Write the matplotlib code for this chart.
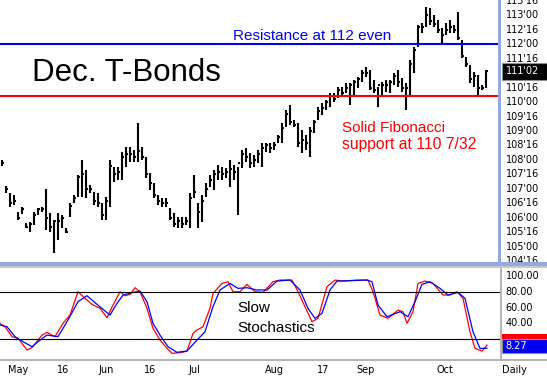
import matplotlib
matplotlib.use("Agg")
import matplotlib.pyplot as plt
from matplotlib.patches import Rectangle

# daily bars, Dec. T-Bond futures (price in points, 32nds as decimals)
highs = [108.00, 107.10, 106.86, 106.79, 106.21, 106.38, 105.83, 105.86, 106.21, 106.34,
         106.38, 107.00, 106.17, 105.93, 106.17, 106.10, 105.66, 106.52, 106.79, 107.48,
         108.00, 107.66, 107.14, 106.90, 106.86, 106.52, 106.72, 108.00, 107.76, 107.76,
         108.28, 108.45, 108.45, 108.34, 109.28, 108.45, 108.10, 107.55, 107.21, 106.79,
         106.69, 106.69, 106.34, 106.17, 106.03, 106.03, 106.03, 106.86, 107.48, 106.52,
         106.79, 107.21, 107.48, 107.66, 107.83, 107.76, 107.72, 108.00, 107.83, 107.76,
         108.34, 108.41, 108.24, 108.17, 108.34, 108.59, 108.59, 108.59, 108.62, 108.86,
         109.28, 109.72, 109.90, 109.38, 109.28, 109.03, 108.86, 109.14, 109.38, 109.83,
         109.97, 110.07, 110.31, 110.31, 110.52, 110.52, 110.66, 110.66, 110.76, 110.86,
         111.10, 111.21, 111.10, 110.76, 110.52, 110.69, 110.76, 110.76, 111.00, 111.10,
         110.83, 110.66, 111.45, 111.90, 112.66, 112.72, 113.28, 113.24, 113.00, 112.83,
         112.55, 112.72, 112.83, 112.66, 113.10, 112.14, 111.55, 111.28, 111.03, 110.93,
         110.59, 111.10]
lows = [107.79, 106.86, 106.38, 106.45, 105.93, 106.14, 105.66, 105.52, 105.76, 106.10,
        106.21, 105.59, 105.52, 104.79, 105.24, 105.66, 105.48, 106.03, 106.52, 106.72,
        106.72, 106.69, 106.86, 106.45, 106.38, 105.93, 105.93, 106.38, 107.24, 107.31,
        107.31, 107.76, 107.93, 107.93, 107.93, 108.00, 107.38, 106.97, 106.69, 106.45,
        106.38, 106.38, 105.93, 105.69, 105.66, 105.66, 105.76, 105.66, 106.69, 105.66,
        105.86, 106.72, 107.07, 106.97, 107.31, 107.31, 107.38, 107.07, 107.31, 106.10,
        107.72, 107.93, 107.72, 107.76, 107.90, 107.76, 108.28, 108.24, 108.34, 108.59,
        108.59, 109.14, 109.21, 109.14, 108.45, 108.24, 108.34, 108.10, 108.93, 109.38,
        109.55, 109.72, 109.83, 110.00, 110.14, 110.17, 110.31, 109.90, 110.24, 110.48,
        110.69, 110.86, 110.41, 110.31, 109.83, 110.17, 110.34, 110.31, 110.59, 110.52,
        110.34, 109.72, 110.24, 111.00, 111.90, 112.38, 112.59, 112.66, 112.59, 112.38,
        112.03, 112.31, 112.38, 112.38, 112.14, 111.52, 111.21, 110.66, 110.52, 110.17,
        110.41, 110.48]
closes = [107.9, 107.0, 106.5, 106.6, 106.0, 106.3, 105.7, 105.8, 106.1, 106.3,
          106.3, 106.0, 105.7, 105.9, 105.9, 106.0, 105.5, 106.4, 106.7, 107.4,
          107.5, 107.0, 107.0, 106.6, 106.5, 106.1, 106.6, 107.8, 107.5, 107.6,
          108.1, 108.2, 108.2, 108.1, 108.3, 108.1, 107.5, 107.2, 106.8, 106.6,
          106.5, 106.5, 106.0, 105.8, 105.9, 105.8, 105.9, 106.7, 106.9, 106.2,
          106.6, 107.0, 107.3, 107.5, 107.6, 107.5, 107.6, 107.7, 107.6, 107.9,
          108.2, 108.1, 107.9, 108.0, 108.2, 108.4, 108.5, 108.4, 108.5, 108.8,
          109.1, 109.6, 109.3, 109.2, 108.6, 108.7, 108.6, 109.0, 109.3, 109.7,
          109.8, 110.0, 110.2, 110.1, 110.4, 110.3, 110.5, 110.6, 110.7, 110.8,
          111.0, 111.0, 110.5, 110.4, 110.6, 110.6, 110.6, 110.7, 110.9, 110.7,
          110.5, 110.5, 111.3, 111.8, 112.6, 112.6, 113.0, 112.8, 112.7, 112.5,
          112.3, 112.5, 112.6, 112.5, 112.2, 111.6, 111.3, 110.8, 110.9, 110.5,
          110.5, 111.0625]

resistance = 112.0
support = 110 + 7 / 32
last_price = 111.0625

# slow stochastics (bar number, value)
k_pos = [-0.5, 0.75, 2.5, 4, 6.25, 7.5, 10, 11.25, 13.25, 15.25, 17, 19, 20.75, 22.5, 24.5,
         26.25, 27.75, 29.5, 30.75, 32, 33.25, 34.5, 36.25, 37.75, 39.5, 41.25, 42.5, 45,
         46.25, 47.75, 48.75, 50.25, 52, 52.75, 55, 56.5, 57.75, 59.5, 61.25, 63.25, 65.25,
         67.75, 69.5, 72.5, 74, 75.75, 77.5, 79, 81.25, 83.25, 85.25, 88.75, 91.5, 92.75,
         94.5, 96.5, 99, 100.25, 101.25, 102.75, 104, 105.75, 107.75, 110.25, 112, 113.75,
         115.25, 117, 118.25, 120, 121.25]
k_val = [40.0, 35.7, 23.0, 21.0, 6.0, 9.0, 25.0, 28.5, 23.0, 40.0, 50.6, 80.4, 72.0, 64.3, 59.2,
         47.2, 63.4, 80.4, 75.3, 77.0, 85.5, 80.4, 59.2, 33.6, 18.7, 8.1, 1.7, 3.0,
         4.7, 27.2, 31.5, 35.7, 59.2, 78.3, 91.0, 93.2, 80.4, 80.4, 89.8, 80.4, 79.5,
         93.2, 95.3, 95.3, 80.4, 61.3, 42.1, 46.4, 86.8, 95.3, 94.0, 95.3, 95.3, 80.4,
         50.6, 46.4, 57.0, 54.9, 40.0, 54.9, 91.0, 94.0, 91.0, 76.2, 76.2, 80.4,
         72.0, 29.3, 8.1, 4.7, 12.3]
d_pos = [-0.5, 1.25, 3.25, 5.25, 7.5, 9, 11.25, 14, 16.5, 19, 21.25, 23.75, 27, 28.75, 30.25,
         32.75, 34.5, 36.25, 37.75, 39.5, 41.5, 43.75, 46.25, 48.75, 50.75, 52.75, 54.5,
         57, 59, 61.25, 63.75, 66.25, 68.75, 72, 74.5, 76.5, 78.25, 80, 82, 83.75, 87,
         91.25, 92.5, 94, 96.25, 99.5, 101.5, 103.25, 105, 107, 109.5, 111.5, 114, 115.75,
         117.75, 119.5, 121.25]
d_val = [37.9, 35.7, 23.0, 16.6, 10.2, 16.6, 25.1, 23.0, 44.3, 67.7, 75.3, 64.3, 50.6, 65.5, 76.2,
         79.5, 81.3, 67.7, 40.0, 25.0, 10.2, 3.0, 4.7, 18.7, 29.3, 61.3, 82.6,
         91.0, 84.7, 85.5, 82.6, 82.6, 94.0, 95.3, 82.6, 59.2, 46.4, 52.8, 82.6, 94.0, 94.5,
         95.3, 93.2, 63.4, 48.5, 54.9, 48.5, 67.7, 89.8, 93.2, 84.7, 76.2, 79.5, 72.0,
         29.3, 8.1, 8.27]
last_k = 12.3
last_d = 8.27

price_ticks = [113.5, 113.0, 112.5, 112.0, 111.5, 111.0, 110.5, 110.0, 109.5, 109.0,
               108.5, 108.0, 107.5, 107.0, 106.5, 106.0, 105.5, 105.0, 104.5]
stoch_ticks = [100, 80, 60, 40]
stoch_levels = [80, 20]

date_labels = ['May', '16', 'Jun', '16', 'Jul', 'Aug', '17', 'Sep', 'Oct']
date_pos = [4, 15.25, 26, 37, 48, 68, 80.25, 91, 110.75]


def to32(v):
    whole = int(v)
    return "%d'%02d" % (whole, round((v - whole) * 32))


W, H = 547, 379
fig = plt.figure(figsize=(W / 100, H / 100), dpi=100)


def box(x0, y0, x1, y1):
    return [x0 / W, 1 - y1 / H, (x1 - x0) / W, (y1 - y0) / H]


tick_font = dict(family='DejaVu Sans', size=7)
note_font = 'Liberation Sans'

# ---------------- price panel
ax = fig.add_axes(box(0, 0, 500, 262))
n = len(highs)
xs = list(range(n))
ax.vlines(xs, lows, highs, color='black', lw=1.5)
ax.hlines(closes, xs, [x + 0.6 for x in xs], color='black', lw=1.5)
ax.axhline(resistance, color='#0000ff', lw=1.5)
ax.axhline(support, color='#ff0000', lw=1.5)
ax.set_xlim(-0.5, 124.5)
ax.set_ylim(104.48, 113.52)
ax.axis('off')

ax.text(0.064, 0.721, 'Dec. T-Bonds', transform=ax.transAxes, fontsize=22.5,
        family=note_font, va='center', ha='left', color='black')
ax.text(0.466, 0.848, 'Resistance at 112 even', transform=ax.transAxes, fontsize=11,
        family=note_font, va='baseline', color='#0000ff')
ax.text(0.684, 0.496, 'Solid Fibonacci', transform=ax.transAxes, fontsize=11,
        family=note_font, va='baseline', color='#ff0000')
ax.text(0.684, 0.432, 'support at 110 7/32', transform=ax.transAxes, fontsize=11.3,
        family=note_font, va='baseline', color='#ff0000')

# price scale
axr = fig.add_axes(box(501, 0, 547, 262))
axr.set_ylim(ax.get_ylim())
axr.set_xlim(0, 1)
axr.axis('off')
for v in price_ticks:
    if abs(v - last_price) < 0.3:
        continue
    axr.text(0.1, v, to32(v), ha='left', va='center', clip_on=True, **tick_font)
axr.add_patch(Rectangle((0.02, last_price - 0.30), 0.98, 0.60, facecolor='black',
                        edgecolor='#909090', lw=0.8, zorder=3))
axr.text(0.1, last_price, to32(last_price), color='white', ha='left', va='center',
         zorder=4, **tick_font)

# ---------------- stochastics panel
st = fig.add_axes(box(0, 268, 500, 359))
st.plot(k_pos, k_val, color='#ff0000', lw=0.9)
st.plot(d_pos, d_val, color='#0000ff', lw=0.9)
for lv in stoch_levels:
    st.axhline(lv, color='black', lw=0.8)
st.set_xlim(-0.5, 124.5)
st.set_ylim(-5.5, 110.7)
for s in st.spines.values():
    s.set_visible(False)
st.set_yticks([])
st.set_xticks(date_pos)
st.set_xticklabels(date_labels, **tick_font)
st.tick_params(axis='x', length=0, pad=4.5)
st.text(0.474, 0.516, 'Slow', transform=st.transAxes, fontsize=11, family=note_font,
        va='baseline')
st.text(0.474, 0.297, 'Stochastics', transform=st.transAxes, fontsize=11, family=note_font,
        va='baseline')

sr = fig.add_axes(box(502, 268, 547, 359))
sr.set_ylim(st.get_ylim())
sr.set_xlim(0, 1)
sr.axis('off')
for v in stoch_ticks:
    sr.text(0.08, v, '%.2f' % v, ha='left', va='center', **tick_font)
sr.add_patch(Rectangle((0, last_k - 4), 1, 18.4, facecolor='#ff0000', lw=0, zorder=3))
sr.add_patch(Rectangle((0, 2.2), 1, 17.8, facecolor='#0000f0', edgecolor='#909090',
                       lw=0.8, zorder=4))
sr.text(0.08, 11.1, '%.2f' % last_d, color='white', ha='left', va='center', zorder=5,
        **tick_font)

fig.text(514 / W, 1 - 370 / H, 'Daily', ha='center', va='center', **tick_font)

# panel separators
fig.add_artist(Rectangle((0, 1 - 266 / H), 1, 4 / H, transform=fig.transFigure,
                         facecolor='#95a9e0', lw=0))
fig.add_artist(Rectangle((0, 1 - 268 / H), 1, 2 / H, transform=fig.transFigure,
                         facecolor='#c8c8c8', lw=0))
fig.add_artist(Rectangle((0, 1 - 361 / H), 1, 2 / H, transform=fig.transFigure,
                         facecolor='#b4b4b4', lw=0))
fig.add_artist(Rectangle((498 / W, 1 - 262 / H), 3 / W, 262 / H, transform=fig.transFigure,
                         facecolor='#95a9e0', lw=0))
fig.add_artist(Rectangle((500 / W, 1 - 359 / H), 2 / W, 91 / H, transform=fig.transFigure,
                         facecolor='#b4b4b4', lw=0))

fig.savefig('out.png', dpi=100, facecolor='white')
